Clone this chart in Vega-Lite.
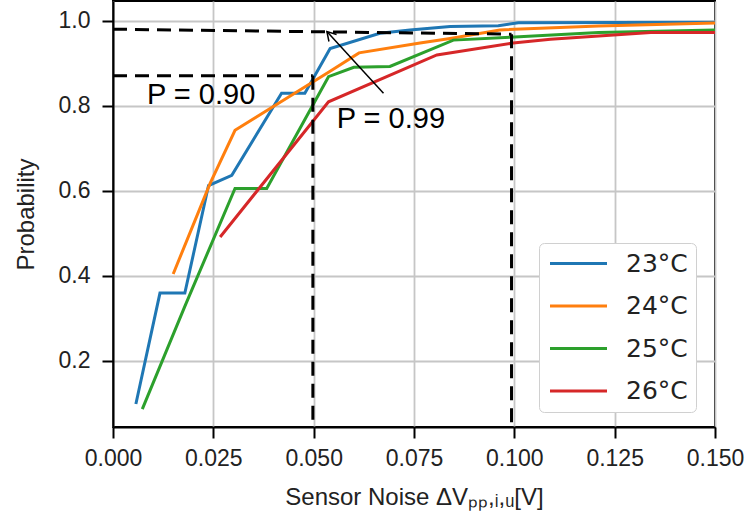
{
  "$schema": "https://vega.github.io/schema/vega-lite/v6.json",
  "width": 602,
  "height": 426,
  "autosize": {"type": "none"},
  "padding": {"left": 113, "top": 1, "right": 33, "bottom": 96},
  "background": "white",
  "config": {
    "view": {"stroke": "black", "strokeWidth": 2},
    "font": "Liberation Sans",
    "axis": {
      "grid": true,
      "gridColor": "#c6c6c6",
      "gridWidth": 1.8,
      "domainColor": "black",
      "domainWidth": 2,
      "tickColor": "black",
      "tickWidth": 2,
      "tickSize": 11,
      "labelFont": "Liberation Sans",
      "labelFontSize": 23,
      "labelColor": "#222222",
      "labelFlush": false,
      "labelOverlap": false,
      "titleFont": "Liberation Sans",
      "titleFontSize": 24,
      "titleFontWeight": "normal",
      "titleColor": "#222222"
    }
  },
  "datasets": {
    "curves": [
      {"temp": "23°C", "x": 0.0057, "y": 0.098},
      {"temp": "23°C", "x": 0.0117, "y": 0.359},
      {"temp": "23°C", "x": 0.0179, "y": 0.359},
      {"temp": "23°C", "x": 0.0238, "y": 0.612},
      {"temp": "23°C", "x": 0.0296, "y": 0.636},
      {"temp": "23°C", "x": 0.042, "y": 0.829},
      {"temp": "23°C", "x": 0.0478, "y": 0.829},
      {"temp": "23°C", "x": 0.0541, "y": 0.934},
      {"temp": "23°C", "x": 0.0665, "y": 0.970},
      {"temp": "23°C", "x": 0.074, "y": 0.978},
      {"temp": "23°C", "x": 0.084, "y": 0.986},
      {"temp": "23°C", "x": 0.096, "y": 0.988},
      {"temp": "23°C", "x": 0.101, "y": 0.995},
      {"temp": "23°C", "x": 0.15, "y": 0.996},
      {"temp": "24°C", "x": 0.015, "y": 0.404},
      {"temp": "24°C", "x": 0.0242, "y": 0.617},
      {"temp": "24°C", "x": 0.0304, "y": 0.742},
      {"temp": "24°C", "x": 0.054, "y": 0.880},
      {"temp": "24°C", "x": 0.0613, "y": 0.924},
      {"temp": "24°C", "x": 0.0765, "y": 0.947},
      {"temp": "24°C", "x": 0.084, "y": 0.958},
      {"temp": "24°C", "x": 0.0964, "y": 0.978},
      {"temp": "24°C", "x": 0.121, "y": 0.987},
      {"temp": "24°C", "x": 0.15, "y": 0.994},
      {"temp": "25°C", "x": 0.0073, "y": 0.086},
      {"temp": "25°C", "x": 0.018, "y": 0.33},
      {"temp": "25°C", "x": 0.0304, "y": 0.605},
      {"temp": "25°C", "x": 0.0383, "y": 0.605},
      {"temp": "25°C", "x": 0.0537, "y": 0.868},
      {"temp": "25°C", "x": 0.06, "y": 0.890},
      {"temp": "25°C", "x": 0.069, "y": 0.892},
      {"temp": "25°C", "x": 0.0848, "y": 0.954},
      {"temp": "25°C", "x": 0.0989, "y": 0.961},
      {"temp": "25°C", "x": 0.121, "y": 0.972},
      {"temp": "25°C", "x": 0.15, "y": 0.978},
      {"temp": "26°C", "x": 0.0267, "y": 0.491},
      {"temp": "26°C", "x": 0.0537, "y": 0.809},
      {"temp": "26°C", "x": 0.0807, "y": 0.919},
      {"temp": "26°C", "x": 0.0997, "y": 0.947},
      {"temp": "26°C", "x": 0.109, "y": 0.956},
      {"temp": "26°C", "x": 0.134, "y": 0.972},
      {"temp": "26°C", "x": 0.15, "y": 0.972}
    ],
    "guides": [
      {"x": 0, "y": 0.870, "x2": 0.0498, "y2": 0.870},
      {"x": 0.0498, "y": 0.870, "x2": 0.0498, "y2": 0.044},
      {"x": 0, "y": 0.9797, "x2": 0.0993, "y2": 0.968},
      {"x": 0.0993, "y": 0.968, "x2": 0.0993, "y2": 0.044}
    ],
    "arrow": [
      {"x": 0.0674, "y": 0.829, "x2": 0.0533, "y2": 0.974}
    ],
    "arrowHead": [
      {"x": 0.0533, "y": 0.974}
    ],
    "notes": [
      {"x": 0.00847, "y": 0.8035, "label": "P = 0.90"},
      {"x": 0.05574, "y": 0.7462, "label": "P = 0.99"}
    ]
  },
  "encoding": {
    "x": {
      "field": "x",
      "type": "quantitative",
      "scale": {"domain": [0, 0.15], "nice": false, "zero": false},
      "axis": {
        "values": [0, 0.025, 0.05, 0.075, 0.1, 0.125, 0.15],
        "format": ".3f",
        "labelPadding": 9,
        "title": "Sensor Noise ΔVₚₚ,ᵢ,ᵤ[V]",
        "titlePadding": 15
      }
    },
    "y": {
      "field": "y",
      "type": "quantitative",
      "scale": {"domain": [0.044, 1.046], "nice": false, "zero": false},
      "axis": {
        "values": [0.2, 0.4, 0.6, 0.8, 1.0],
        "format": ".1f",
        "labelPadding": 12,
        "title": "Probability",
        "titlePadding": 20
      }
    }
  },
  "layer": [
    {
      "data": {"name": "curves"},
      "mark": {"type": "line", "strokeWidth": 3},
      "encoding": {
        "color": {
          "field": "temp",
          "type": "nominal",
          "scale": {
            "domain": ["23°C", "24°C", "25°C", "26°C"],
            "range": ["#1f77b4", "#ff7f0e", "#2ca02c", "#d62728"]
          },
          "legend": {
            "title": null,
            "orient": "none",
            "legendX": 426,
            "legendY": 242,
            "symbolType": "M -1 0 L 5 0",
            "symbolSize": 361,
            "symbolStrokeWidth": 3,
            "labelFont": "DejaVu Sans",
            "labelFontSize": 25,
            "labelColor": "#222222",
            "labelOffset": 54,
            "rowPadding": 16.5,
            "padding": 8,
            "strokeColor": "#d0d0d0",
            "fillColor": "white",
            "cornerRadius": 5
          }
        }
      }
    },
    {
      "data": {"name": "guides"},
      "mark": {"type": "rule", "strokeWidth": 3, "strokeDash": [14, 8], "color": "black"},
      "encoding": {"x2": {"field": "x2"}, "y2": {"field": "y2"}}
    },
    {
      "data": {"name": "arrow"},
      "mark": {"type": "rule", "strokeWidth": 1.5, "color": "black"},
      "encoding": {"x2": {"field": "x2"}, "y2": {"field": "y2"}}
    },
    {
      "data": {"name": "arrowHead"},
      "mark": {"type": "point", "shape": "M -0.6 1 L 0 0 L 0.6 1", "filled": false, "color": "black", "strokeWidth": 1.5, "size": 300, "angle": -42.6, "opacity": 1}
    },
    {
      "data": {"name": "notes"},
      "mark": {"type": "text", "align": "left", "baseline": "alphabetic", "font": "Liberation Sans", "fontSize": 29, "color": "black"},
      "encoding": {"text": {"field": "label"}}
    }
  ]
}
